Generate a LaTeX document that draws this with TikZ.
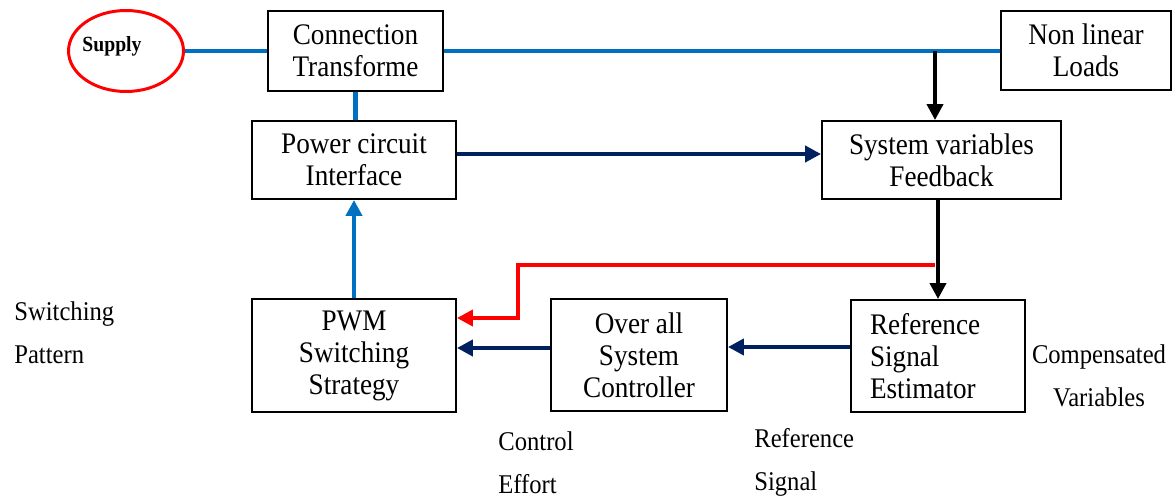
\documentclass[tikz,border=0pt]{standalone}
\usepackage{fontspec}
\setmainfont{Liberation Serif}[FakeStretch=0.91]
\usetikzlibrary{arrows.meta, shapes.geometric}
\usepackage{xcolor}
\definecolor{cpower}{HTML}{0070C0}
\definecolor{csignal}{HTML}{002060}
\definecolor{cfault}{HTML}{FF0000}

\tikzset{
	block/.style={draw, line width=1.1pt, align=center, inner sep=0pt, font=\fontsize{17}{18.2}\selectfont},
	side/.style={align=left, anchor=west, inner sep=0pt, font=\fontsize{15.4}{24.5}\selectfont},
	tip/.style={-{Triangle[length=0.32cm, width=0.32cm]}},
	powerline/.style={cpower, line width=2.3pt},
	signalline/.style={csignal, line width=2.5pt, tip},
	measline/.style={black, line width=2.2pt, tip},
}

\begin{document}
\begin{tikzpicture}[x=0.02cm, y=-0.02cm]
	\useasboundingbox (0, 0) rectangle (1172, 497);

	% top row
	\node[ellipse, draw=cfault, line width=1.7pt, minimum width=2.3cm, minimum height=1.62cm, inner sep=0pt] (supply) at (126, 51) {};
	\node[inner sep=0pt, font=\fontsize{12.3}{14}\selectfont\bfseries] (supplytxt) at (112, 46) {Supply};
	\node[block, minimum width=3.5cm, minimum height=1.6cm] (conn) at (355.5, 51) {Connection\\Transforme};
	\node[block, minimum width=3.4cm, minimum height=1.58cm] (loads) at (1086, 50.5) {Non linear\\Loads};

	% middle row
	\node[block, minimum width=4.08cm, minimum height=1.56cm] (power) at (354, 160) {Power circuit\\Interface};
	\node[block, minimum width=4.78cm, minimum height=1.56cm] (sysvar) at (941.5, 160) {System variables\\Feedback};

	% bottom row
	\node[block, minimum width=4.08cm, minimum height=2.26cm] (pwm) at (354, 355.5) {PWM\\Switching\\Strategy};
	\node[block, minimum width=3.52cm, minimum height=2.24cm] (ctrl) at (639, 355) {Over all\\System\\Controller};
	\node[block, align=left, text width=2.72cm, inner xsep=0.38cm, minimum height=2.24cm] (refest) at (938, 356) {Reference\\Signal\\Estimator};

	% power path
	\draw[powerline] (supply.east) -- (supply.east -| conn.west);
	\draw[powerline] (conn.east) -- (conn.east -| loads.west);
	\draw[powerline] (conn.south) -- (conn.south |- power.north);
	\draw[powerline, tip] (pwm.north) -- (power.south);

	% measurement and control path
	\coordinate (tap) at (935, 51);
	\draw[measline] (tap) -- (tap |- sysvar.north);
	\draw[measline] (sysvar.south -| refest.north) -- (refest.north);
	\draw[signalline] ([yshift=0.12cm]power.east) -- ([yshift=0.12cm]power.east -| sysvar.west);
	\draw[signalline] ([yshift=0.18cm]refest.west) -- ([yshift=0.18cm]refest.west -| ctrl.east);
	\draw[signalline] ([yshift=0.14cm]ctrl.west) -- ([yshift=0.14cm]ctrl.west -| pwm.east);

	\coordinate (redtap) at (935, 265);
	\coordinate (redbend) at (518, 265);
	\draw[cfault, line width=2.2pt, tip] (redtap) -- (redbend) |- ([yshift=0.75cm]pwm.east);

	% free labels
	\node[side] (patternlbl) at (14, 332.5) {Switching\\Pattern};
	\node[side] (effortlbl) at (498, 462.5) {Control\\Effort};
	\node[side] (signallbl) at (754, 462.5) {Reference\\Signal};
	\node[side, align=center, anchor=center] (complbl) at (1099, 375.5) {Compensated\\Variables};
\end{tikzpicture}
\end{document}
